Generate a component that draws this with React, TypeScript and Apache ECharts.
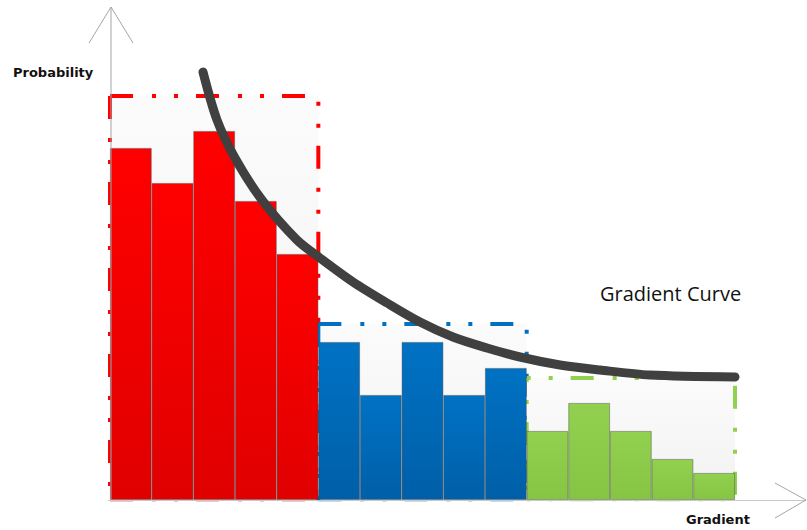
import React, { useEffect, useRef } from "react";
import * as echarts from "echarts";

// Histogram bins along the gradient axis
const bins = ["b1", "b2", "b3", "b4", "b5", "b6", "b7", "b8", "b9", "b10", "b11", "b12", "b13", "b14", "b15"];
const redValues = [0.352, 0.317, 0.369, 0.299, 0.246];
const blueValues = [0.158, 0.105, 0.158, 0.105, 0.132];
const greenValues = [0.069, 0.097, 0.069, 0.041, 0.027];

// Group envelopes: [first bin, last bin, height]
const redEnvelope = [0, 4, 0.404];
const blueEnvelope = [5, 9, 0.176];
const greenEnvelope = [10, 14, 0.122];

// Fitted gradient curve: [position along bins, probability]
const curvePoints = [
  [2.232, 0.428],
  [2.568, 0.38],
  [3.0, 0.342],
  [3.648, 0.3],
  [4.488, 0.26],
  [5.04, 0.242],
  [5.832, 0.218],
  [6.648, 0.197],
  [7.44, 0.178],
  [8.232, 0.163],
  [9.048, 0.152],
  [9.84, 0.143],
  [10.8, 0.135],
  [11.76, 0.13],
  [12.96, 0.125],
  [15.0, 0.123],
];

const RED = "#ff0000";
const BLUE = "#0070c0";
const GREEN = "#92d050";

const grad = (top: string, bottom: string) =>
  new echarts.graphic.LinearGradient(0, 0, 0, 1, [
    { offset: 0, color: top },
    { offset: 1, color: bottom },
  ]);

export default function App() {
  const ref = useRef<HTMLDivElement>(null);

  useEffect(() => {
    document.body.style.margin = "0";
    if (!ref.current) return;
    const chart = echarts.init(ref.current, undefined, { renderer: "svg" });

    const pad = (vals: number[], offset: number) =>
      bins.map((_, i) => (i >= offset && i < offset + vals.length ? vals[i - offset] : "-"));

    const envelopeColors = [RED, BLUE, GREEN];
    const envelopeDash = [
      [23, 19, 4, 18, 4, 18],
      [23, 19, 4, 18, 4, 18],
      [4, 18, 4, 18, 23, 19],
    ];

    const barStyle = (top: string, bottom: string) => ({
      color: grad(top, bottom),
      borderColor: "rgba(70,70,70,0.55)",
      borderWidth: 0.8,
    });

    chart.setOption({
      animation: false,
      grid: { left: 110, right: 72, top: 60, bottom: 30 },
      xAxis: [
        {
          type: "category",
          data: bins,
          show: false,
          boundaryGap: true,
        },
        {
          type: "value",
          min: 0,
          max: 15,
          show: false,
        },
      ],
      yAxis: { type: "value", min: 0, max: 0.44, show: false },
      series: [
        {
          type: "custom",
          xAxisIndex: 0,
          z: 1,
          data: [
            [...redEnvelope, 0],
            [...blueEnvelope, 1],
            [...greenEnvelope, 2],
          ],
          renderItem: (params: any, api: any) => {
            const start = api.coord([api.value(0), 0]);
            const end = api.coord([api.value(1), api.value(2)]);
            const band = api.size([1, 0])[0];
            const idx = api.value(3);
            const x0 = start[0] - band / 2;
            const x1 = end[0] + band / 2;
            const y0 = end[1];
            const y1 = start[1];
            const dashStyle = {
              fill: "none",
              stroke: envelopeColors[idx],
              lineWidth: 4,
              lineDash: envelopeDash[idx],
            };
            return {
              type: "group",
              children: [
                {
                  type: "rect",
                  shape: { x: x0, y: y0, width: x1 - x0, height: y1 - y0 },
                  style: {
                    fill: new echarts.graphic.LinearGradient(0, 0, 0, 1, [
                      { offset: 0, color: "#fbfbfb" },
                      { offset: 1, color: "#f2f2f2" },
                    ]),
                  },
                },
                // left side, running down from the top-left corner
                {
                  type: "line",
                  shape: { x1: x0, y1: y0, x2: x0, y2: y1 },
                  style: dashStyle,
                },
                // top and right sides
                {
                  type: "polyline",
                  shape: {
                    points: [
                      [x0, y0],
                      [x1, y0],
                      [x1, y1],
                    ],
                  },
                  style: dashStyle,
                },
                {
                  type: "line",
                  shape: { x1: x0, y1: y1 + 1, x2: x1, y2: y1 + 1 },
                  style: {
                    stroke: envelopeColors[idx],
                    opacity: 0.25,
                    lineWidth: 2,
                    lineDash: envelopeDash[idx],
                  },
                },
              ],
            };
          },
        },
        {
          type: "bar",
          name: "low",
          stack: "h",
          barCategoryGap: 0,
          z: 2,
          data: pad(redValues, 0),
          itemStyle: barStyle("#ff0000", "#e00000"),
        },
        {
          type: "bar",
          name: "mid",
          stack: "h",
          barCategoryGap: 0,
          z: 2,
          data: pad(blueValues, 5),
          itemStyle: barStyle("#0072c4", "#005fa8"),
        },
        {
          type: "bar",
          name: "high",
          stack: "h",
          barCategoryGap: 0,
          z: 2,
          data: pad(greenValues, 10),
          itemStyle: barStyle("#92d050", "#86c544"),
        },
        {
          type: "line",
          xAxisIndex: 1,
          z: 5,
          smooth: 0.3,
          showSymbol: false,
          clip: false,
          data: curvePoints,
          lineStyle: { color: "#404040", width: 9, cap: "round", join: "round" },
        },
      ],
      graphic: [
        // vertical axis with open arrow head
        {
          type: "line",
          shape: { x1: 111, y1: 501, x2: 111, y2: 7 },
          style: { stroke: "#a6a6a6", lineWidth: 1 },
          z: 10,
        },
        {
          type: "polyline",
          shape: { points: [[89, 43], [111, 7], [133, 43]] },
          style: { stroke: "#a6a6a6", lineWidth: 1, fill: "none" },
          z: 10,
        },
        // horizontal axis with open arrow head
        {
          type: "line",
          shape: { x1: 108, y1: 500.5, x2: 806, y2: 500.5 },
          style: { stroke: "#c8c8c8", lineWidth: 1 },
          z: 10,
        },
        {
          type: "polyline",
          shape: { points: [[775, 483], [806, 500], [775, 518]] },
          style: { stroke: "#a6a6a6", lineWidth: 1, fill: "none" },
          z: 10,
        },
        {
          type: "text",
          left: 13,
          top: 66,
          style: {
            text: "Probability",
            fill: "#111",
            font: "bold 13px 'DejaVu Sans', sans-serif",
          },
          z: 10,
        },
        {
          type: "text",
          left: 686,
          top: 513,
          style: {
            text: "Gradient",
            fill: "#111",
            font: "bold 13px 'DejaVu Sans', sans-serif",
          },
          z: 10,
        },
        {
          type: "text",
          left: 600,
          top: 283,
          style: {
            text: "Gradient Curve",
            fill: "#111",
            font: "20px 'Open Sans', sans-serif",
          },
          z: 10,
        },
      ],
    });

    return () => chart.dispose();
  }, []);

  return <div ref={ref} style={{ width: 807, height: 530 }} />;
}
